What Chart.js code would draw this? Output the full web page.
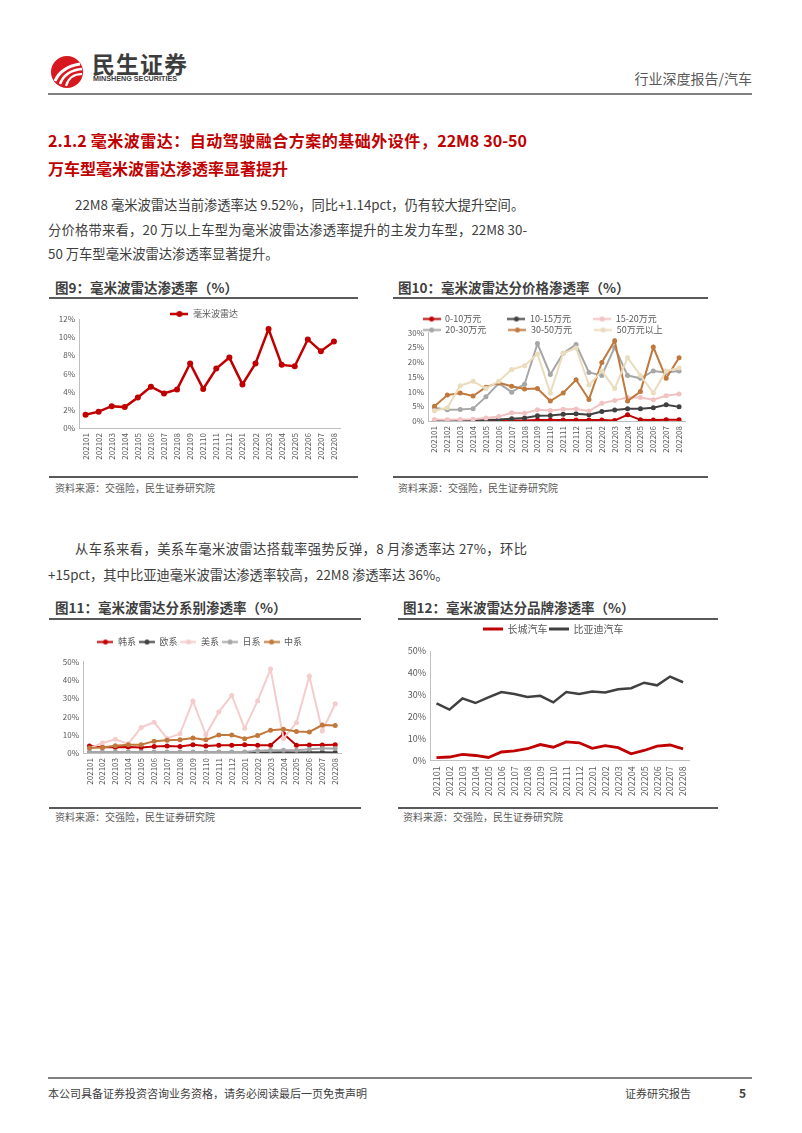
<!DOCTYPE html>
<html><head><meta charset="utf-8">
<script src="https://cdn.jsdelivr.net/npm/chart.js@4"></script>
<style>
html,body{margin:0;padding:0;background:#fff;}
body{width:802px;height:1133px;position:relative;overflow:hidden;font-family:'Noto Sans CJK SC','Noto Sans',sans-serif;color:#404040;}
.t{position:absolute;white-space:nowrap;}
.j{text-align:justify;text-align-last:justify;}
.rule{position:absolute;background:#595959;}
.body{font-size:13.3px;line-height:20px;color:#404040;}
.h{font-size:16px;line-height:24px;font-weight:bold;color:#c00000;}
.ft{font-size:13.5px;line-height:18px;font-weight:bold;color:#404040;}
.src{font-size:10px;line-height:14px;color:#595959;}
canvas{position:absolute;}
</style></head>
<body>
<svg class="t" style="left:49px;top:54px" width="36" height="36" viewBox="0 0 36 36">
<circle cx="18" cy="18" r="16" fill="#d7191f"/>
<path d="M6 27 C 10 18, 18 12, 31 10" stroke="#fff" stroke-width="3" fill="none"/>
<path d="M11 30 C 14 22, 21 16, 33 15" stroke="#fff" stroke-width="2.6" fill="none"/>
<path d="M17 32 C 19 25, 24 20, 33 20" stroke="#fff" stroke-width="2.2" fill="none"/>
</svg>
<div class="t" style="left:92px;top:49px;font-size:23px;line-height:28px;font-weight:bold;color:#3d3d3d;letter-spacing:1px;">民生证券</div>
<div class="t" style="left:93px;top:74px;font-size:8px;line-height:10px;font-weight:bold;color:#3d3d3d;font-family:'Liberation Sans',sans-serif;transform:scaleX(0.9);transform-origin:left;">MINSHENG SECURITIES</div>
<div class="t" style="right:50px;top:69px;font-size:14px;line-height:18px;color:#595959;">行业深度报告/汽车</div>
<div class="rule" style="left:48px;top:93px;width:704px;height:2px;background:#808080;"></div>

<div class="t h j" style="left:48px;top:128px;width:479px;">2.1.2 毫米波雷达：自动驾驶融合方案的基础外设件，22M8 30-50</div>
<div class="t h" style="left:48px;top:156px;">万车型毫米波雷达渗透率显著提升</div>

<div class="t body j" style="left:75px;top:195px;width:448px;">22M8 毫米波雷达当前渗透率达 9.52%，同比+1.14pct，仍有较大提升空间。</div>
<div class="t body j" style="left:48px;top:220px;width:479px;">分价格带来看，20 万以上车型为毫米波雷达渗透率提升的主发力车型，22M8 30-</div>
<div class="t body" style="left:48px;top:244px;">50 万车型毫米波雷达渗透率显著提升。</div>

<div class="t ft" style="left:55px;top:278px;">图9：毫米波雷达渗透率（%）</div>
<div class="t ft" style="left:398px;top:278px;">图10：毫米波雷达分价格渗透率（%）</div>
<div class="rule" style="left:49px;top:297px;width:309px;height:2px;"></div>
<div class="rule" style="left:393px;top:297px;width:315px;height:2px;"></div>
<div class="rule" style="left:49px;top:476px;width:309px;height:2px;"></div>
<div class="rule" style="left:393px;top:476px;width:315px;height:2px;"></div>
<div class="t src" style="left:55px;top:481px;">资料来源：交强险，民生证券研究院</div>
<div class="t src" style="left:398px;top:481px;">资料来源：交强险，民生证券研究院</div>

<div class="t body j" style="left:75px;top:539px;width:452px;">从车系来看，美系车毫米波雷达搭载率强势反弹，8 月渗透率达 27%，环比</div>
<div class="t body" style="left:48px;top:565px;">+15pct，其中比亚迪毫米波雷达渗透率较高，22M8 渗透率达 36%。</div>

<div class="t ft" style="left:55px;top:598px;">图11：毫米波雷达分系别渗透率（%）</div>
<div class="t ft" style="left:403px;top:598px;">图12：毫米波雷达分品牌渗透率（%）</div>
<div class="rule" style="left:49px;top:618px;width:312px;height:2px;"></div>
<div class="rule" style="left:398px;top:618px;width:320px;height:2px;"></div>
<div class="rule" style="left:49px;top:807px;width:312px;height:2px;"></div>
<div class="rule" style="left:398px;top:807px;width:320px;height:2px;"></div>
<div class="t src" style="left:55px;top:810px;">资料来源：交强险，民生证券研究院</div>
<div class="t src" style="left:403px;top:810px;">资料来源：交强险，民生证券研究院</div>

<div class="rule" style="left:48px;top:1077px;width:704px;height:1.5px;background:#808080;"></div>
<div class="t" style="left:48px;top:1085px;font-size:11px;line-height:16px;color:#404040;">本公司具备证券投资咨询业务资格，请务必阅读最后一页免责声明</div>
<div class="t" style="left:625px;top:1085px;font-size:11px;line-height:16px;color:#404040;">证券研究报告</div>
<div class="t" style="left:739px;top:1084px;font-size:12px;line-height:17px;font-weight:bold;color:#404040;">5</div>

<canvas id="c9" width="300" height="170" style="left:50px;top:300px;"></canvas>
<canvas id="c10" width="300" height="165" style="left:400px;top:305px;"></canvas>
<canvas id="c11" width="300" height="170" style="left:50px;top:630px;"></canvas>
<canvas id="c12" width="300" height="185" style="left:400px;top:620px;"></canvas>

<script>
// ===== DATA =====
const months = ['202101','202102','202103','202104','202105','202106','202107','202108','202109','202110','202111','202112','202201','202202','202203','202204','202205','202206','202207','202208'];

// Fig 9: overall mmWave radar penetration (%)
const radarRate = [1.45,1.8,2.4,2.3,3.35,4.55,3.8,4.25,7.1,4.3,6.55,7.75,4.8,7.1,10.9,6.95,6.8,9.75,8.45,9.52];

// Fig 10: by price band (%)
const p0_10   = [0.2,0.2,0.2,0.2,0.2,0.2,0.2,0.2,0.3,0.3,0.3,0.3,0.3,0.3,0.2,2.1,0.4,0.3,0.4,0.4];
const p10_15  = [0.2,0.2,0.2,0.2,0.3,0.5,0.8,1.0,1.8,1.9,2.3,2.5,2.1,3.2,3.7,4.2,4.2,4.5,5.5,4.8];
const p15_20  = [0.5,0.4,0.5,0.6,1.0,1.5,2.8,2.6,3.8,3.6,4.0,4.1,3.4,6.0,7.0,8.0,8.0,7.2,8.6,9.2];
const p20_30  = [4.5,3.8,3.9,4.2,8.2,12.8,9.8,12.5,26.3,15.8,23.0,26.0,16.5,15.5,25.0,15.5,14.5,17.0,16.5,17.0];
const p30_50  = [5.0,8.8,9.5,8.5,11.5,13.0,11.8,10.9,11.0,6.8,9.5,14.0,7.3,19.9,27.3,6.8,10.0,25.1,14.5,21.5];
const p50plus = [3.5,4.5,12.0,13.5,11.0,13.5,17.5,18.8,22.8,9.5,23.0,24.8,12.2,17.0,11.0,21.5,15.5,9.5,17.0,18.0];
const priceLabels = ['0-10万元','10-15万元','15-20万元','20-30万元','30-50万元','50万元以上'];

// Fig 11: by origin (%)
const korean   = [3.8,3.2,3.2,3.3,3.0,3.5,3.8,3.6,4.5,3.8,4.3,4.3,4.5,4.2,4.2,10.5,4.3,4.4,4.4,4.5];
const european = [0.3,0.3,0.3,0.3,0.3,0.3,0.3,0.3,0.3,0.3,0.3,0.3,0.3,0.3,0.3,0.4,0.3,0.4,0.4,0.3];
const american = [2.5,5.5,7.5,5.0,14.0,16.8,8.0,10.5,28.5,10.0,22.5,31.5,13.5,28.5,46.0,8.0,16.5,42.0,12.0,27.0];
const japanese = [0.5,0.5,0.5,0.5,0.5,0.5,0.5,0.5,0.5,0.5,0.5,0.5,0.5,1.2,1.5,1.5,1.5,2.0,2.5,2.5];
const chinese  = [2.8,3.0,4.0,4.5,4.5,6.5,7.0,7.2,8.2,7.2,9.8,9.8,7.8,9.6,12.5,13.0,11.8,11.5,15.3,15.0];
const originLabels = ['韩系','欧系','美系','日系','中系'];

// Fig 12: by brand (%)
const greatWall = [1.2,1.5,2.7,2.2,1.3,3.8,4.3,5.3,7.2,6.0,8.4,8.0,5.5,6.7,5.8,3.0,4.5,6.5,7.0,5.2];
const byd       = [26.0,23.2,28.3,26.2,28.8,31.2,30.3,29.0,29.5,26.5,31.2,30.3,31.5,31.0,32.5,33.0,35.5,34.3,38.3,35.7];
const brandLabels = ['长城汽车','比亚迪汽车'];

// ===== STYLE =====
const FONT = "'Noto Sans CJK SC','Noto Sans',sans-serif";
Chart.defaults.font.family = FONT;
Chart.defaults.color = '#595959';
Chart.defaults.animation = false;
const AXIS = '#bfbfbf';
const RED = '#c00000', DARK = '#404040', PINK = '#f2c2c2', GRAY = '#a6a6a6', BROWN = '#c0783c', BEIGE = '#eadcbc', PINK2 = '#f4cccc';

const legendFit = {
  id: 'legendFit',
  beforeLayout(chart, args, opts) {
    const lg = chart.legend;
    if (lg && !lg.__p) {
      const f = lg.fit, d = lg.draw;
      lg.fit = function(){ f.call(this); if (opts && opts.height != null) this.height = opts.height; };
      lg.draw = function(){
        const c = this.ctx, b = this.bottom;
        c.save(); c.translate((opts && opts.dx) || 0, 0);
        this.bottom = b + 20;
        d.apply(this, arguments);
        this.bottom = b;
        c.restore();
      };
      lg.__p = true;
    }
  }
};

function icon(color, w, lw, r) {
  const h = Math.max(Math.ceil(lw) + 2, Math.ceil(2 * r + 2));
  const c = document.createElement('canvas');
  c.width = w; c.height = h;
  const x = c.getContext('2d');
  x.strokeStyle = color; x.lineWidth = lw;
  x.beginPath(); x.moveTo(0, h / 2); x.lineTo(w, h / 2); x.stroke();
  if (r > 0) { x.fillStyle = color; x.beginPath(); x.arc(w / 2, h / 2, r, 0, Math.PI * 2); x.fill(); }
  return c;
}
const mctx = document.createElement('canvas').getContext('2d');
function padText(t, target, font) {
  mctx.font = font; let s = t;
  while (mctx.measureText(s).width < target) s += ' ';
  return s;
}
function legendLabels(icons, pad, font) {
  return chart => {
    const items = Chart.defaults.plugins.legend.labels.generateLabels(chart);
    items.sort((a, b) => a.datasetIndex - b.datasetIndex);
    items.forEach(it => { it.pointStyle = icons[it.datasetIndex]; if (pad) it.text = padText(it.text, pad, font); });
    return items;
  };
}
function axes(o) {
  return {
    x: { offset: true, grid: {display: false, drawTicks: false}, border: {display: true, color: AXIS, width: 1},
         ticks: {autoSkip: false, minRotation: 90, maxRotation: 90, padding: o.xpad, font: {size: o.fs}, color: '#595959'},
         afterFit(s) { s.height = o.xh; } },
    y: { min: 0, max: o.max, grid: {display: false, drawTicks: false}, border: {display: true, color: AXIS, width: 1},
         ticks: {stepSize: o.step, padding: 4, font: {size: o.fs}, color: '#595959', callback: v => v + '%'},
         afterFit(s) { s.width = o.yw; } }
  };
}
function ds(label, data, color, bw, r, order) {
  return {label, data, borderColor: color, backgroundColor: color, pointBackgroundColor: color,
          pointBorderColor: color, borderWidth: bw, pointRadius: r, pointBorderWidth: 0, tension: 0, order};
}

// Fig 9
new Chart(document.getElementById('c9'), {
  type: 'line',
  data: { labels: months, datasets: [ds('毫米波雷达', radarRate, RED, 2.5, 3, 0)] },
  options: {
    responsive: false, devicePixelRatio: 1,
    layout: {padding: {top: 7.5, left: 0, right: 9.5, bottom: 0}},
    plugins: {
      legendFit: {height: 11.5, dx: 9},
      tooltip: {enabled: false},
      legend: {position: 'top', labels: {usePointStyle: true, pointStyleWidth: 18, padding: 2, font: {size: 9}, color: '#595959',
        generateLabels: legendLabels([icon(RED, 18, 2.5, 3)])}}
    },
    scales: axes({max: 12, step: 2, fs: 8, xh: 42, yw: 29, xpad: 5})
  },
  plugins: [legendFit]
});

// Fig 10
const c10colors = [RED, DARK, PINK, GRAY, BROWN, BEIGE];
const c10data = [p0_10, p10_15, p15_20, p20_30, p30_50, p50plus];
new Chart(document.getElementById('c10'), {
  type: 'line',
  data: { labels: months, datasets: c10data.map((d, i) => ds(priceLabels[i], d, c10colors[i], 2, 2.5, 10 - i)) },
  options: {
    responsive: false, devicePixelRatio: 1,
    layout: {padding: {top: 7.5, left: 0, right: 14.5, bottom: 0}},
    plugins: {
      legendFit: {height: 20.2, dx: 7},
      tooltip: {enabled: false},
      legend: {position: 'top', labels: {usePointStyle: true, pointStyleWidth: 18, padding: 2, font: {size: 9}, color: '#595959',
        generateLabels: legendLabels(c10colors.map(c => icon(c, 18, 2, 2.5)), 60, "9px " + FONT)}}
    },
    scales: axes({max: 30, step: 5, fs: 8, xh: 49, yw: 28, xpad: 5})
  },
  plugins: [legendFit]
});

// Fig 11
const c11colors = [RED, DARK, PINK2, GRAY, BROWN];
const c11data = [korean, european, american, japanese, chinese];
new Chart(document.getElementById('c11'), {
  type: 'line',
  data: { labels: months, datasets: c11data.map((d, i) => ds(originLabels[i], d, c11colors[i], 2, 2.5, 10 - i)) },
  options: {
    responsive: false, devicePixelRatio: 1,
    layout: {padding: {top: 4.5, left: 0, right: 7.5, bottom: 0}},
    plugins: {
      legendFit: {height: 27.2, dx: 3.5},
      tooltip: {enabled: false},
      legend: {position: 'top', labels: {usePointStyle: true, pointStyleWidth: 16, padding: 3, font: {size: 9}, color: '#595959',
        generateLabels: legendLabels(c11colors.map(c => icon(c, 16, 2, 2.5)))}}
    },
    scales: axes({max: 50, step: 10, fs: 8, xh: 47, yw: 33, xpad: 5})
  },
  plugins: [legendFit]
});

// Fig 12
const c12colors = [RED, DARK];
new Chart(document.getElementById('c12'), {
  type: 'line',
  data: { labels: months, datasets: [ds(brandLabels[0], greatWall, RED, 2.8, 0, 2), ds(brandLabels[1], byd, DARK, 2.5, 0, 1)] },
  options: {
    responsive: false, devicePixelRatio: 1,
    layout: {padding: {top: 3, left: 0, right: 6, bottom: 0}},
    plugins: {
      legendFit: {height: 28, dx: 6},
      tooltip: {enabled: false},
      legend: {position: 'top', labels: {usePointStyle: true, pointStyleWidth: 20, padding: 1, font: {size: 10}, color: '#595959',
        generateLabels: legendLabels(c12colors.map(c => icon(c, 20, 3, 0)))}}
    },
    scales: axes({max: 50, step: 10, fs: 9, xh: 44.7, yw: 30, xpad: 6})
  },
  plugins: [legendFit]
});
</script>
</body></html>
